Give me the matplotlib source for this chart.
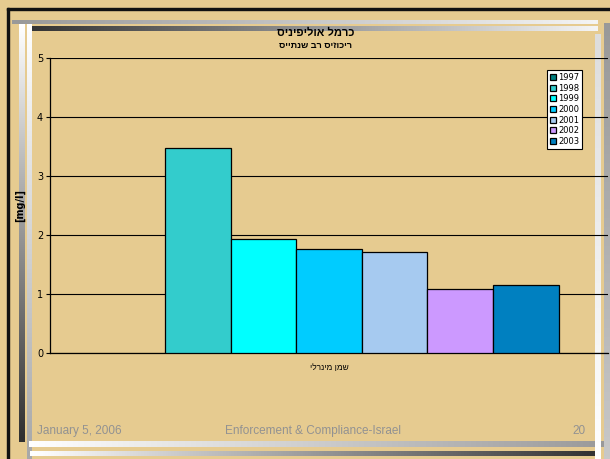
import matplotlib
matplotlib.use("Agg")
import matplotlib.pyplot as plt
import matplotlib.patches as patches
import numpy as np

# ---------------- data ----------------
years = ['1997', '1998', '1999', '2000', '2001', '2002', '2003']
values = [np.nan, 3.48, 1.94, 1.77, 1.71, 1.09, 1.16]
colors = ['#008080', '#33CCCC', '#00FFFF', '#00CCFF', '#A6CAF0', '#CC99FF', '#0080C0']
# hebrew strings written glyph by glyph, left to right, as the slide shows them
category = ['\u05D9\u05DC\u05E8\u05E0\u05D9\u05DE \u05DF\u05DE\u05E9']
title = '\u05E1\u05D9\u05E0\u05D9\u05E4\u05D9\u05DC\u05D5\u05D0 \u05DC\u05DE\u05E8\u05DB'
subtitle = '\u05E1\u05D9\u05D9\u05EA\u05E0\u05E9 \u05D1\u05E8 \u05E1\u05D9\u05D6\u05D5\u05DB\u05D9\u05E8'
footer_left = 'January 5, 2006'
footer_mid = 'Enforcement & Compliance-Israel'
footer_right = '20'

W, H = 610, 459
bg = '#E6CB90'

fig = plt.figure(figsize=(6.1, 4.59), dpi=100)
fig.patch.set_facecolor(bg)


def grad(x0, y0, w, h, c1, c2, horizontal=True):
    # gradient bar in pixel coords (y from top)
    a = fig.add_axes([x0 / W, 1 - (y0 + h) / H, w / W, h / H])
    a.set_axis_off()
    t = np.linspace(0, 1, 64)
    c1 = np.array(matplotlib.colors.to_rgb(c1))
    c2 = np.array(matplotlib.colors.to_rgb(c2))
    img = c1[None, :] * (1 - t[:, None]) + c2[None, :] * t[:, None]
    if horizontal:
        img = img[None, :, :]
    else:
        img = img[:, None, :]
    a.imshow(img, aspect='auto', interpolation='bilinear')


# frame decoration
fig.add_artist(patches.Rectangle((7 / W, 0), 2 / W, 1 - 8 / H, color='#111111', transform=fig.transFigure))
fig.add_artist(patches.Rectangle((7 / W, 1 - 10 / H), 1, 2 / H, color='#111111', transform=fig.transFigure))
grad(12, 20, 586, 4, '#999999', '#F4F4F4')
grad(27, 26, 571, 5, '#333333', '#F4F4F4')
grad(19, 24, 6, 418, '#FFFFFF', '#303030', horizontal=False)
grad(27, 24, 5, 435, '#FFFFFF', '#A8A8A8', horizontal=False)
grad(29, 441, 581, 6, '#FFFFFF', '#999999')
grad(30, 451, 567, 5, '#FFFFFF', '#333333')
grad(595, 34, 6, 425, '#DDDDDD', '#FFFFFF', horizontal=False)
grad(604, 23, 6, 436, '#999999', '#C8C8C8', horizontal=False)

# ---------------- chart ----------------
ax = fig.add_axes([50 / W, 106 / H, 558 / W, 295 / H])
ax.set_facecolor('none')
n = len(years)
w = 1.0 / (n + 1.5)
for i, (yr, v, c) in enumerate(zip(years, values, colors)):
    ax.bar((i - (n - 1) / 2) * w, v, width=w, color=c, edgecolor='black',
           linewidth=0.9, label=yr, zorder=3)

ax.set_xlim(-0.5, 0.5)
ax.set_ylim(0, 5)
ax.set_yticks(range(6))
ax.yaxis.grid(True, color='black', linewidth=0.8, zorder=0)
ax.set_xticks([0])
ax.set_xticklabels(category, fontsize=6, family=['Liberation Sans', 'DejaVu Sans'])
ax.tick_params(axis='x', length=0, pad=8)
ax.tick_params(axis='y', labelsize=7, length=3, width=0.8, pad=2)
for s in ['top', 'right']:
    ax.spines[s].set_visible(False)
ax.spines['left'].set_linewidth(0.9)
ax.spines['bottom'].set_linewidth(0.9)

leg = ax.legend(loc='upper left', bbox_to_anchor=(547 / W, 1 - 70 / H),
                bbox_transform=fig.transFigure, fontsize=6, frameon=True,
                fancybox=False, edgecolor='black', framealpha=1,
                handlelength=0.7, handleheight=0.7, labelspacing=0.2,
                borderpad=0.35, handletextpad=0.3, borderaxespad=0)
leg.get_frame().set_linewidth(0.8)

fig.text(0.517, 1 - 33 / H, title, ha='center', va='center', fontsize=8,
         fontweight='bold', family=['Liberation Sans', 'DejaVu Sans'])
fig.text(0.517, 1 - 45 / H, subtitle, ha='center', va='center', fontsize=6.5,
         fontweight='bold', family=['Liberation Sans', 'DejaVu Sans'])
fig.text(20 / W, 1 - 205 / H, '[mg/l]', rotation=90, ha='center', va='center',
         fontsize=7, fontweight='bold')

ff = ['Liberation Sans Narrow', 'Liberation Sans', 'DejaVu Sans']
fig.text(37 / W, 1 - 431 / H, footer_left, ha='left', va='center', fontsize=8.5,
         color='#929292', family=ff)
fig.text(313 / W, 1 - 431 / H, footer_mid, ha='center', va='center', fontsize=8.5,
         color='#929292', family=ff)
fig.text(586 / W, 1 - 431 / H, footer_right, ha='right', va='center', fontsize=8.5,
         color='#929292', family=ff)

fig.savefig('out.png', dpi=100, facecolor=bg)
